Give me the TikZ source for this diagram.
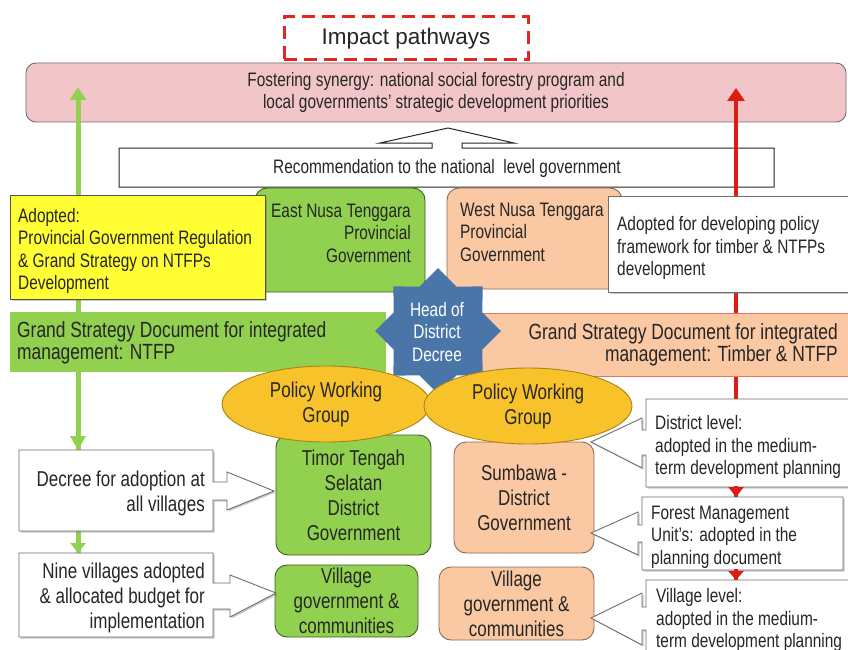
\documentclass[tikz,border=0pt]{standalone}
\usepackage{fontspec}
\setmainfont{Liberation Sans}
\newfontfamily\nar[FakeStretch=0.79]{Liberation Sans}
\usetikzlibrary{arrows.meta,shapes.geometric,shadows}
\definecolor{pinkf}{HTML}{F2C6C9}
\definecolor{grayb}{HTML}{6E6E6E}
\definecolor{titred}{HTML}{E3261F}
\definecolor{greenf}{HTML}{92D050}
\definecolor{greenb}{HTML}{3F5F22}
\definecolor{peachf}{HTML}{FAC8A2}
\definecolor{peachb}{HTML}{8A6A58}
\definecolor{peachr}{HTML}{E8735F}
\definecolor{yell}{HTML}{FFFF33}
\definecolor{goldf}{HTML}{F8C22A}
\definecolor{goldb}{HTML}{A98414}
\definecolor{starf}{HTML}{4A75A8}
\definecolor{redl}{HTML}{E01B13}
\definecolor{txtc}{HTML}{262626}
\tikzset{
  fs/.style={font=\nar\fontsize{19.5}{22.5}\selectfont},
  fm/.style={font=\nar\fontsize{21.5}{25}\selectfont},
  fl/.style={font=\nar\fontsize{22}{22.5}\selectfont},
  lbl/.style={text=txtc, inner sep=0pt},
  shd/.style={drop shadow={shadow xshift=1.5pt,shadow yshift=-1.5pt,opacity=0.35,fill=black!60}},
  whitebox/.style={draw=grayb, fill=white, line width=0.9pt, shd},
  greenbox/.style={draw=greenb, fill=greenf, line width=0.9pt, rounded corners=12pt, inner sep=0pt},
  peachbox/.style={draw=peachb, fill=peachf, line width=0.9pt, rounded corners=12pt, inner sep=0pt},
  pwg/.style={ellipse, draw=goldb, fill=goldf, line width=0.9pt, minimum width=208pt, minimum height=76pt, inner sep=0pt, fm, text=txtc, align=center},
  greenline/.style={draw=greenf, line width=5pt},
  redline/.style={draw=redl, line width=4.5pt},
}
\begin{document}
\begin{tikzpicture}[x=1pt,y=-1pt]
\clip (0,0) rectangle (848,650);
\fill[white] (0,0) rectangle (848,650);

% top band and title
\node[draw=grayb, fill=pinkf, line width=0.9pt, rounded corners=10pt, minimum width=820pt, minimum height=59pt, fs, text=txtc, align=center] (pink) at (436,92.5) {Fostering synergy: national social forestry program and\\local governments’ strategic development priorities};
\node[draw=titred, line width=3pt, dash pattern=on 13pt off 7pt, minimum width=244pt, minimum height=43pt, font=\fontsize{22.5}{27}\selectfont, text=txtc] (title) at (406,38.5) {Impact pathways};

% recommendation up-arrow callout
\draw[draw=txtc, fill=white, line width=1pt] (119,148) -- (432,148) -- (432,143) -- (380,143) -- (448,128) -- (514,143) -- (462,143) -- (462,148) -- (774,148) -- (774,187) -- (119,187) -- cycle;
\node[fs, lbl] (rec) at (447,168) {Recommendation to the national\ \ level government};

% long pathway arrows
\coordinate (gtop) at (78,87); \coordinate (gbot) at (78,553);
\draw[greenline, -{Triangle[width=16pt,length=13pt]}] (gbot) -- (gtop);
\coordinate (rtop) at (736,88); \coordinate (rbot) at (736,580);
\draw[redline, -{Triangle[width=17pt,length=13pt]}] (rbot) -- (rtop);

% provincial boxes
\node[greenbox, minimum width=170pt, minimum height=104pt] (ent) at (340,240) {};
\node[fs, lbl, align=right, anchor=east] (ent-t) at (411,233) {East Nusa Tenggara\\Provincial\\Government};
\node[peachbox, minimum width=175pt, minimum height=101pt] (wnt) at (534.5,238.5) {};
\node[fs, lbl, align=left, anchor=west] (wnt-t) at (460,232) {West Nusa Tenggara\\Provincial\\Government};

\node[draw=txtc!80, fill=yell, line width=0.9pt, shd, minimum width=255pt, minimum height=104pt] (yel) at (137.5,247) {};
\node[fs, lbl, align=left, anchor=west] (yel-t) at (18,251) {Adopted:\\Provincial Government Regulation\\\& Grand Strategy on NTFPs\\Development};

\node[whitebox, minimum width=242pt, minimum height=96pt] (adp) at (729,244) {};
\node[fs, lbl, align=left, anchor=west] (adp-t) at (617,248) {Adopted for developing policy\\framework for timber \& NTFPs\\development};

% grand strategy bands
\node[fill=greenf, minimum width=376pt, minimum height=60pt] (gband) at (198,342) {};
\node[fl, lbl, align=left, anchor=west] (gband-t) at (17,343) {Grand Strategy Document for integrated\\management: NTFP};
\node[draw=peachr, fill=peachf, line width=0.8pt, minimum width=370pt, minimum height=63pt] (pband) at (665,344.5) {};
\node[fl, lbl, align=right, anchor=east] (pband-t) at (838,345) {Grand Strategy Document for integrated\\management: Timber \& NTFP};

% star
\node[star, star points=8, star point ratio=1.31, minimum size=126pt, inner sep=0pt, fill=starf] (star) at (438,331) {};
\node[fs, text=white, inner sep=0pt, align=center] (star-t) at (437,332) {Head of\\District\\Decree};

% district and village boxes
\node[greenbox, minimum width=155pt, minimum height=120pt, fm, text=txtc, align=center] (tts) at (353.5,495) {Timor Tengah\\Selatan\\District\\Government};
\node[peachbox, minimum width=140pt, minimum height=111pt, fm, text=txtc, align=center] (sum) at (524,497.5) {Sumbawa -\\District\\Government};
\node[greenbox, minimum width=143pt, minimum height=72pt, fm, text=txtc, align=center] (vilG) at (346.5,601) {Village\\government \&\\communities};
\node[peachbox, minimum width=155pt, minimum height=73pt, fm, text=txtc, align=center] (vilP) at (516.5,603.5) {Village\\government \&\\communities};

% policy working groups
\node[pwg] (pwgL) at (326,404) {Policy Working\\Group};
\node[pwg] (pwgR) at (528,406) {Policy Working\\Group};

% left callouts
\draw[whitebox] (19,450) -- (213,450) -- (213,482) -- (227,482) -- (227,472) -- (274,491) -- (227,510) -- (227,500) -- (213,500) -- (213,531) -- (19,531) -- cycle;
\node[fm, lbl, align=right, anchor=east] (dec-t) at (205,493) {Decree for adoption at\\all villages};
\draw[whitebox] (19,553) -- (213,553) -- (213,583) -- (230,583) -- (230,575) -- (276,593) -- (230,617) -- (230,609) -- (213,609) -- (213,637) -- (19,637) -- cycle;
\node[fm, lbl, align=right, anchor=east] (nine-t) at (205,598) {Nine villages adopted\\\& allocated budget for\\implementation};

% right callouts
\draw[whitebox] (646,399) -- (852,399) -- (852,487) -- (646,487) -- (646,455) -- (642,455) -- (642,468) -- (591,442) -- (642,418) -- (642,430) -- (646,430) -- cycle;
\node[fs, lbl, align=left, anchor=west] (dist-t) at (655,447) {District level:\\adopted in the medium-\\term development planning};
\draw[whitebox] (642,497) -- (843,497) -- (843,570) -- (642,570) -- (642,542) -- (638,542) -- (638,555) -- (591,533) -- (638,512) -- (638,525) -- (642,525) -- cycle;
\node[fs, lbl, align=left, anchor=west] (fmu-t) at (651,537) {Forest Management\\Unit’s: adopted in the\\planning document};
\draw[whitebox] (646,580) -- (852,580) -- (852,662) -- (646,662) -- (646,630) -- (642,630) -- (642,645) -- (591,618) -- (642,593) -- (642,607) -- (646,607) -- cycle;
\node[fs, lbl, align=left, anchor=west] (vl-t) at (656,620) {Village level:\\adopted in the medium-\\term development planning};

% short down arrowheads
\draw[greenline, -{Triangle[width=15pt,length=14pt]}] (78,432) -- (78,450);
\draw[greenline, -{Triangle[width=15pt,length=10pt]}] (78,538) -- (78,553);
\draw[redline, -{Triangle[width=15pt,length=10pt]}] (736,486) -- (736,497);
\draw[redline, -{Triangle[width=15pt,length=9pt]}] (736,569) -- (736,580);
\end{tikzpicture}
\end{document}
